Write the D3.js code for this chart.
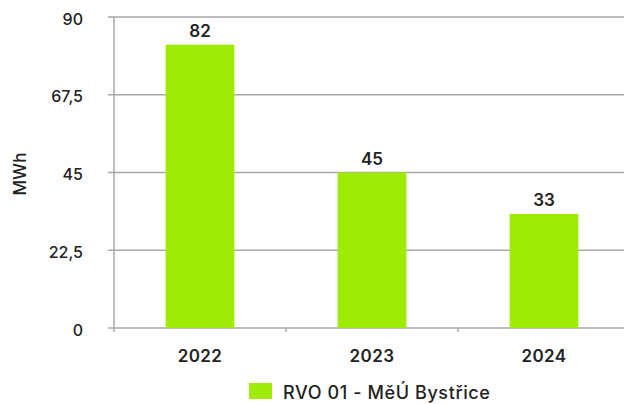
<!DOCTYPE html>
<html>
<head>
<meta charset="utf-8">
<script src="https://cdn.jsdelivr.net/npm/d3@7"></script>
<style>
  body { margin: 0; background: #fff; }
  text { font-family: Inter, "Liberation Sans", sans-serif; fill: #222; }
</style>
</head>
<body>
<svg id="chart" width="624" height="404"></svg>
<script>
// data
const years = ["2022", "2023", "2024"];
const values = [82, 45, 33];
const yTicks = [0, 22.5, 45, 67.5, 90];
const seriesName = "RVO 01 - MěÚ Bystřice";

const svg = d3.select("#chart");
const plotLeft = 114, plotRight = 630, plotTop = 17, plotBottom = 328;

const x = d3.scaleBand().domain(years).range([plotLeft, plotRight]).paddingInner(0.6).paddingOuter(0.3);
const y = d3.scaleLinear().domain([0, 90]).range([plotBottom, plotTop]);

const fmt = d => String(d).replace(".", ",");

// gridlines
svg.append("g")
  .selectAll("line")
  .data(yTicks)
  .join("line")
  .attr("x1", plotLeft - 6)
  .attr("x2", 624)
  .attr("y1", d => y(d))
  .attr("y2", d => y(d))
  .attr("stroke", "#a8a8a8")
  .attr("stroke-width", 1.5);

// y axis line
svg.append("line")
  .attr("x1", plotLeft).attr("x2", plotLeft)
  .attr("y1", plotTop).attr("y2", plotBottom + 4)
  .attr("stroke", "#a8a8a8").attr("stroke-width", 1.5);

// y tick labels
svg.append("g")
  .selectAll("text")
  .data(yTicks)
  .join("text")
  .attr("x", 83)
  .attr("y", d => y(d) + 2)
  .attr("dy", "0.35em")
  .attr("text-anchor", "end")
  .attr("font-size", 16)
  .attr("font-weight", 500)
  .text(fmt);

// x ticks between categories
svg.append("g")
  .selectAll("line")
  .data(years.slice(1))
  .join("line")
  .attr("x1", d => x(d) - x.step() * x.paddingInner() / 2)
  .attr("x2", d => x(d) - x.step() * x.paddingInner() / 2)
  .attr("y1", plotBottom).attr("y2", plotBottom + 4)
  .attr("stroke", "#a8a8a8").attr("stroke-width", 1.5);

// bars
svg.append("g")
  .selectAll("rect")
  .data(values)
  .join("rect")
  .attr("x", (d, i) => x(years[i]))
  .attr("y", d => y(d))
  .attr("width", x.bandwidth())
  .attr("height", d => plotBottom - y(d))
  .attr("fill", "#a0eb05");

// value labels
svg.append("g")
  .selectAll("text")
  .data(values)
  .join("text")
  .attr("x", (d, i) => x(years[i]) + x.bandwidth() / 2)
  .attr("y", d => y(d) - 8)
  .attr("text-anchor", "middle")
  .attr("font-size", 17)
  .attr("font-weight", 600)
  .text(d => d);

// x labels
svg.append("g")
  .selectAll("text")
  .data(years)
  .join("text")
  .attr("x", d => x(d) + x.bandwidth() / 2)
  .attr("y", 362)
  .attr("text-anchor", "middle")
  .attr("font-size", 17)
  .attr("font-weight", 600)
  .attr("letter-spacing", 0.4)
  .text(d => d);

// y axis title
svg.append("text")
  .attr("transform", "translate(20,174) rotate(-90)")
  .attr("text-anchor", "middle")
  .attr("dy", "0.35em")
  .attr("font-size", 17)
  .attr("font-weight", 500)
  .text("MWh");

// legend
svg.append("rect")
  .attr("x", 249).attr("y", 383)
  .attr("width", 23).attr("height", 16)
  .attr("fill", "#a0eb05");
svg.append("text")
  .attr("x", 283).attr("y", 399)
  .attr("font-size", 18)
  .attr("font-weight", 500)
  .attr("letter-spacing", 0.6)
  .text(seriesName);
</script>
</body>
</html>
